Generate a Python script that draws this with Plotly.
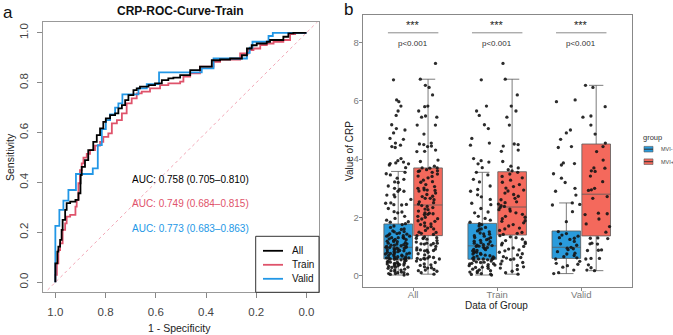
import plotly.graph_objects as go

# ---------------- ROC data (specificity, sensitivity) ----------------
all_spec = [1.0, 1.0, 0.992, 0.988, 0.981, 0.975, 0.971, 0.961, 0.955, 0.941,
            0.92, 0.908, 0.90, 0.899, 0.895, 0.882, 0.869, 0.849, 0.835, 0.822,
            0.809, 0.799, 0.782, 0.762, 0.749, 0.735, 0.722, 0.709, 0.689, 0.676,
            0.663, 0.629, 0.603, 0.576, 0.55, 0.53, 0.503, 0.463, 0.424, 0.377,
            0.344, 0.304, 0.257, 0.237, 0.218, 0.198, 0.158, 0.145, 0.092, 0.072,
            0.052, 0.0]
all_sens = [0.0, 0.042, 0.076, 0.123, 0.143, 0.17, 0.21, 0.25, 0.29, 0.317,
            0.323, 0.33, 0.357, 0.397, 0.43, 0.463, 0.49, 0.53, 0.563, 0.59,
            0.617, 0.643, 0.657, 0.67, 0.677, 0.697, 0.71, 0.73, 0.75, 0.77,
            0.777, 0.784, 0.79, 0.797, 0.81, 0.817, 0.82, 0.83, 0.85, 0.864,
            0.89, 0.893, 0.897, 0.91, 0.937, 0.95, 0.957, 0.964, 0.971, 0.984,
            0.998, 1.0]

train_spec = [1.0, 0.994, 0.988, 0.981, 0.971, 0.961, 0.955, 0.941, 0.92, 0.915,
              0.908, 0.902, 0.895, 0.888, 0.875, 0.862, 0.842, 0.822, 0.809, 0.789,
              0.775, 0.755, 0.735, 0.716, 0.696, 0.676, 0.656, 0.623, 0.583, 0.55,
              0.503, 0.49, 0.463, 0.424, 0.37, 0.344, 0.264, 0.231, 0.211, 0.184,
              0.158, 0.131, 0.092, 0.065, 0.045, 0.0]
train_sens = [0.0, 0.03, 0.076, 0.129, 0.156, 0.21, 0.236, 0.263, 0.27, 0.303,
              0.33, 0.397, 0.45, 0.477, 0.50, 0.515, 0.53, 0.548, 0.563, 0.583,
              0.597, 0.637, 0.65, 0.677, 0.717, 0.737, 0.757, 0.764, 0.777, 0.79,
              0.797, 0.804, 0.824, 0.837, 0.864, 0.884, 0.893, 0.917, 0.931, 0.937,
              0.951, 0.957, 0.964, 0.971, 0.995, 1.0]

valid_spec = [1.0, 0.984, 0.968, 0.948, 0.918, 0.851, 0.831, 0.815, 0.799, 0.782,
              0.762, 0.749, 0.733, 0.669, 0.636, 0.587, 0.417, 0.37, 0.237, 0.226,
              0.215, 0.151, 0.134, 0.0]
valid_sens = [0.0, 0.226, 0.29, 0.327, 0.37, 0.434, 0.457, 0.55, 0.614, 0.65,
              0.673, 0.70, 0.717, 0.753, 0.777, 0.794, 0.841, 0.857, 0.897, 0.92,
              0.94, 0.964, 0.987, 1.0]

auc_labels = ["AUC: 0.758 (0.705\u20130.810)",
              "AUC: 0.749 (0.684\u20130.815)",
              "AUC: 0.773 (0.683\u20130.863)"]
roc_names = ["All", "Train", "Valid"]

# ---------------- CRP values by group ----------------
groups = ["All", "Train", "Valid"]

train_neg = [6.72, 5.82, 5.65, 5.5, 5.18, 5.05, 4.71, 4.55, 4.48, 4.02, 3.95, 3.9, 3.84, 3.71,
             3.55, 3.46, 3.31, 3.22, 3.08, 2.96, 2.9, 2.78, 2.71, 2.62, 2.49, 2.44, 2.31, 2.19,
             2.16, 2.04, 1.97, 1.91, 1.84,
             1.79, 1.76, 1.71, 1.66, 1.61, 1.59, 1.54, 1.51, 1.47, 1.44, 1.43, 1.38, 1.36, 1.32,
             1.31, 1.27, 1.24, 1.22, 1.19, 1.17, 1.14, 1.12, 1.09, 1.07, 1.05, 1.04,
             1.02, 1.01, 0.98, 0.97, 0.94, 0.91, 0.9, 0.87, 0.86, 0.83, 0.81, 0.8, 0.77, 0.75,
             0.74, 0.71, 0.69, 0.68, 0.65, 0.63, 0.62, 0.6, 0.59, 0.58, 0.58, 0.57,
             0.55, 0.53, 0.51, 0.48, 0.46, 0.43, 0.41, 0.39, 0.37, 0.35, 0.33, 0.3, 0.29, 0.26,
             0.23, 0.21, 0.18, 0.16, 0.13, 0.11, 0.08, 0.06, 0.05, 0.03, 0.42, 0.47]
train_pos = [7.28, 6.74, 6.2, 5.82, 5.65, 5.44, 5.17, 4.52, 4.5, 4.31, 4.27, 4.45, 3.92, 3.76,
             3.7, 3.64, 3.6,
             3.55, 3.49, 3.41, 3.36, 3.28, 3.21, 3.13, 3.06, 3.01, 2.94, 2.91, 2.84, 2.79, 2.73,
             2.66, 2.61, 2.54, 2.51, 2.46, 2.41, 2.38,
             2.34, 2.29, 2.27, 2.22, 2.16, 2.11, 2.04, 2.01, 1.96, 1.89, 1.87, 1.82, 1.76, 1.71,
             1.64, 1.61, 1.56, 1.49, 1.46, 1.42,
             1.38, 1.34, 1.31, 1.26, 1.21, 1.16, 1.12, 1.11, 1.06, 1.01, 0.96, 0.92, 0.89, 0.86,
             0.81, 0.76, 0.72, 0.66, 0.63, 0.61, 0.58, 0.56, 0.51, 0.46, 0.41, 0.36, 0.31, 0.27,
             0.22, 0.16, 0.11, 0.06]
valid_neg = [6.03, 5.97, 5.0, 4.9, 4.68, 4.43, 4.4, 3.87, 3.85, 3.8, 3.5, 3.35, 3.2, 3.0, 2.9,
             2.77, 2.5, 2.45, 2.43, 2.2, 1.86, 1.52, 1.45, 1.4, 1.36, 1.31, 1.29, 1.25, 1.18,
             1.1, 1.05, 0.98, 0.95, 0.93, 0.9, 0.83, 0.78, 0.75, 0.7, 0.66, 0.62, 0.58, 0.5,
             0.43, 0.4, 0.35, 0.3, 0.2, 0.11, 0.08]
valid_pos = [6.53, 6.46, 5.8, 5.48, 5.44, 5.17, 4.86, 4.55, 4.43, 4.26, 3.97, 3.7, 3.69, 3.6,
             3.58, 3.42, 3.23, 3.0, 2.95, 2.93, 2.72, 2.66, 2.15, 2.13, 2.1, 1.95, 1.78, 1.69,
             1.5, 1.29, 1.3, 1.28, 1.12, 1.1, 1.09, 0.89, 0.88, 0.87, 0.6, 0.6, 0.58, 0.38,
             0.28, 0.2, 0.18]
all_neg = train_neg + valid_neg
all_pos = train_pos + valid_pos

# box statistics per group (All, Train, Valid)
neg_q1 = [0.58, 0.57, 0.60]
neg_med = [0.98, 1.03, 0.98]
neg_q3 = [1.78, 1.80, 1.54]
neg_lo = [0.03, 0.03, 0.08]
neg_hi = [3.58, 3.55, 2.50]
pos_q1 = [1.38, 1.40, 1.37]
pos_med = [2.43, 2.36, 2.80]
pos_q3 = [3.70, 3.57, 4.52]
pos_lo = [0.06, 0.06, 0.18]
pos_hi = [6.74, 6.74, 6.53]

sig_stars = ["***", "***", "***"]
p_labels = ["p<0.001", "p<0.001", "p<0.001"]

# ---------------- styling ----------------
W, H = 673, 335
FONT = "Liberation Sans, Arial, sans-serif"
roc_colors = ["#000000", "#DF536B", "#2297E6"]
neg_color = "#2A9BDB"
pos_color = "#F4695C"


def px(x):
    return x / W


def py(y):
    return 1 - y / H


fig = go.Figure()

# diagonal reference
fig.add_trace(go.Scatter(x=[1.2, -0.2], y=[-0.2, 1.2], mode="lines",
                         line=dict(color="#F2A7B6", width=1, dash="dot"),
                         showlegend=False, hoverinfo="skip", xaxis="x", yaxis="y"))

roc_data = [(all_spec, all_sens), (train_spec, train_sens), (valid_spec, valid_sens)]
for i in [1, 2, 0]:
    sp, se = roc_data[i]
    fig.add_trace(go.Scatter(x=sp, y=se, mode="lines", name=roc_names[i],
                             line=dict(color=roc_colors[i], width=1.8, shape="vh"),
                             showlegend=False, xaxis="x", yaxis="y"))

# AUC text
auc_y = [0.413, 0.314, 0.214]
for i in range(3):
    fig.add_annotation(x=0.702, y=auc_y[i], xref="x", yref="y", text=auc_labels[i],
                       showarrow=False, xanchor="left", yanchor="middle",
                       font=dict(size=10, color=roc_colors[i], family=FONT))

# manual legend box for ROC panel
fig.add_shape(type="rect", xref="paper", yref="paper", x0=px(255.7), x1=px(319),
              y0=py(292.3), y1=py(236.3), fillcolor="white",
              line=dict(color="#333", width=1))
for i in range(3):
    yc = 250.8 + 14 * i
    fig.add_shape(type="line", xref="paper", yref="paper", x0=px(263), x1=px(283),
                  y0=py(yc), y1=py(yc), line=dict(color=roc_colors[i], width=1.8))
    fig.add_annotation(x=px(290), y=py(yc), xref="paper", yref="paper", text=roc_names[i],
                       showarrow=False, xanchor="left", yanchor="middle",
                       font=dict(size=10, color="#111", family=FONT))

# ---------------- boxes ----------------
fig.add_trace(go.Box(x=groups, q1=neg_q1, median=neg_med, q3=neg_q3,
                     lowerfence=neg_lo, upperfence=neg_hi, name="MVI-",
                     offsetgroup="neg", fillcolor=neg_color,
                     line=dict(color="#5a5a5a", width=0.8), boxpoints=False,
                     showlegend=False, xaxis="x2", yaxis="y2", hoverinfo="skip"))
fig.add_trace(go.Box(x=groups, q1=pos_q1, median=pos_med, q3=pos_q3,
                     lowerfence=pos_lo, upperfence=pos_hi, name="MVI+",
                     offsetgroup="pos", fillcolor=pos_color,
                     line=dict(color="#5a5a5a", width=0.8), boxpoints=False,
                     showlegend=False, xaxis="x2", yaxis="y2", hoverinfo="skip"))

# jittered points, split into value bands so the library jitter spreads each band
neg_sets = [all_neg, train_neg, valid_neg]
pos_sets = [all_pos, train_pos, valid_pos]
for sets, og, q1s, q3s, his in [(neg_sets, "neg", neg_q1, neg_q3, neg_hi),
                                 (pos_sets, "pos", pos_q1, pos_q3, pos_hi)]:
    for band in range(4):
        xs, ys = [], []
        for gi, (g, vals) in enumerate(zip(groups, sets)):
            cuts = [-1e9, q1s[gi], q3s[gi], his[gi], 1e9]
            for v in vals:
                if cuts[band] < v <= cuts[band + 1]:
                    xs.append(g)
                    ys.append(v)
        fig.add_trace(go.Box(x=xs, y=ys, offsetgroup=og, boxpoints="all", jitter=1,
                             pointpos=0, fillcolor="rgba(0,0,0,0)",
                             line=dict(color="rgba(0,0,0,0)", width=0),
                             marker=dict(color="#151515", size=3.3, opacity=0.9),
                             showlegend=False, xaxis="x2", yaxis="y2", hoverinfo="skip"))

# significance annotations
for i, g in enumerate(groups):
    fig.add_shape(type="line", xref="x2", yref="y2", x0=i - 0.3, x1=i + 0.3,
                  y0=8.33, y1=8.33, line=dict(color="#8a8a8a", width=1))
    fig.add_annotation(x=g, y=8.60, xref="x2", yref="y2", text=sig_stars[i],
                       showarrow=False, xanchor="center", yanchor="middle",
                       font=dict(size=11, color="#222", family=FONT))
    fig.add_annotation(x=g, y=7.97, xref="x2", yref="y2", text=p_labels[i],
                       showarrow=False, xanchor="center", yanchor="middle",
                       font=dict(size=8, color="#333", family=FONT))

# ---------------- text / labels ----------------
def label(x, y, text, size, color="#222", angle=0, xanchor="center"):
    fig.add_annotation(x=px(x), y=py(y), xref="paper", yref="paper", text=text,
                       showarrow=False, xanchor=xanchor, yanchor="middle",
                       textangle=angle, font=dict(size=size, color=color, family=FONT))


label(180.5, 11.5, "<b>CRP-ROC-Curve-Train</b>", 12, "#111")
label(8, 12, "a", 17, "#111")
label(348, 10, "b", 17, "#111")
label(179, 328, "1 - Specificity", 10.5)
label(10, 157, "Sensitivity", 10.5, angle=-90)
label(349, 151, "Value of CRP", 10, angle=-90)
label(496, 305.5, "Data of Group", 10)

# right legend (group)
label(641, 137.5, "group", 7.5, "#333", xanchor="left")
for j, (lab, col) in enumerate([("MVI-", neg_color), ("MVI+", pos_color)]):
    yc = 149.2 + j * 12.5
    fig.add_shape(type="rect", xref="paper", yref="paper", x0=px(644), x1=px(653),
                  y0=py(yc + 2.8), y1=py(yc - 2.8), fillcolor=col,
                  line=dict(color="#5a5a5a", width=0.6))
    fig.add_shape(type="line", xref="paper", yref="paper", x0=px(644), x1=px(653),
                  y0=py(yc), y1=py(yc), line=dict(color="#333", width=1))
    label(659, yc, lab, 5.5, "#444", xanchor="left")

fig.update_layout(
    width=W, height=H, margin=dict(l=0, r=0, t=0, b=0, autoexpand=False),
    paper_bgcolor="white", plot_bgcolor="white",
    font=dict(family=FONT, size=10, color="#333"),
    boxmode="group", boxgap=0.29, boxgroupgap=0.04,
    xaxis=dict(domain=[px(43.3), px(319)], range=[1.048, -0.05],
               tickvals=[1.0, 0.8, 0.6, 0.4, 0.2, 0.0],
               ticktext=["1.0", "0.8", "0.6", "0.4", "0.2", "0.0"],
               ticks="outside", ticklen=5, tickcolor="#888", showline=True, mirror=True,
               linecolor="#999", linewidth=1, showgrid=False, zeroline=False,
               tickfont=dict(size=11.5, color="#444"), ticklabelstandoff=4,
               automargin=False, anchor="y"),
    yaxis=dict(domain=[py(292.3), py(22.3)], range=[-0.04, 1.042],
               tickvals=[0.0, 0.2, 0.4, 0.6, 0.8, 1.0],
               ticktext=["0.0", "0.2", "0.4", "0.6", "0.8", "1.0"], tickangle=-90,
               ticks="outside", ticklen=5, tickcolor="#888", showline=True, mirror=True,
               linecolor="#999", linewidth=1, showgrid=False, zeroline=False,
               tickfont=dict(size=11.5, color="#444"), ticklabelstandoff=5,
               automargin=False, anchor="x"),
    xaxis2=dict(domain=[px(362.7), px(631.7)], type="category",
                categoryorder="array", categoryarray=groups, range=[-0.6, 2.6],
                ticks="outside", ticklen=3, tickcolor="#888", showline=True, mirror=True,
                linecolor="#888", linewidth=1, showgrid=False, zeroline=False,
                tickfont=dict(size=9.5, color="#7a7a7a"), ticklabelstandoff=-4,
                automargin=False, anchor="y2"),
    yaxis2=dict(domain=[py(287), py(15)], range=[-0.38, 8.94],
                tickvals=[0, 2, 4, 6, 8], ticks="outside", ticklen=3, tickcolor="#888",
                showline=True, mirror=True, linecolor="#888", linewidth=1, showgrid=False,
                zeroline=False, tickfont=dict(size=9.5, color="#7a7a7a"),
                ticklabelstandoff=-2, automargin=False, anchor="x2"),
    showlegend=False,
)

fig.write_html("out.html", config={"displayModeBar": False},
               post_script="document.body.style.margin='0px';")
